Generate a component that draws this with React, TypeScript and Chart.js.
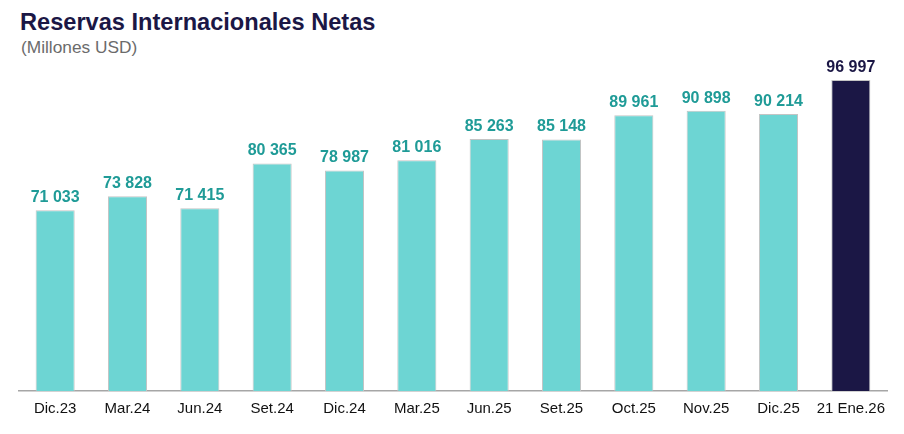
import React, { useEffect, useRef } from 'react';
import Chart from 'chart.js/auto';

const categories = ['Dic.23', 'Mar.24', 'Jun.24', 'Set.24', 'Dic.24', 'Mar.25', 'Jun.25', 'Set.25', 'Oct.25', 'Nov.25', 'Dic.25', '21 Ene.26'];
const reserves = [71033, 73828, 71415, 80365, 78987, 81016, 85263, 85148, 89961, 90898, 90214, 96997];

const TEAL = '#6dd5d3';
const TEAL_TEXT = '#1f9b97';
const NAVY = '#1b1745';

const fmt = (v: number) => v.toLocaleString('en-US').replace(/,/g, ' ');

const barLabels = {
    id: 'barLabels',
    afterDatasetsDraw(chart: Chart) {
        const ctx = chart.ctx;
        const meta = chart.getDatasetMeta(0);
        ctx.save();
        ctx.font = 'bold 16px "Liberation Sans", Arial, sans-serif';
        ctx.textAlign = 'center';
        ctx.textBaseline = 'alphabetic';
        meta.data.forEach((bar: any, i: number) => {
            ctx.fillStyle = i === reserves.length - 1 ? NAVY : TEAL_TEXT;
            ctx.fillText(fmt(reserves[i]), bar.x, bar.y - 8);
        });
        ctx.restore();
    }
};

const App: React.FC = () => {
    const canvasRef = useRef<HTMLCanvasElement>(null);
    const chartRef = useRef<Chart>();

    useEffect(() => {
        document.body.style.margin = '0';
        if (!canvasRef.current) return;
        const ctx = canvasRef.current.getContext('2d');
        if (!ctx) return;
        if (chartRef.current) chartRef.current.destroy();

        chartRef.current = new Chart(ctx, {
            type: 'bar',
            data: {
                labels: categories,
                datasets: [{
                    data: reserves,
                    backgroundColor: reserves.map((_, i) => i === reserves.length - 1 ? NAVY : TEAL),
                    borderColor: '#c4c4c4',
                    borderWidth: { left: 1, right: 1, top: 1, bottom: 0 },
                    borderSkipped: 'bottom',
                    categoryPercentage: 1,
                    barPercentage: 0.54
                }]
            },
            options: {
                animation: false,
                responsive: false,
                layout: { padding: { left: 19, right: 17, top: 65, bottom: 7 } },
                plugins: {
                    legend: { display: false },
                    tooltip: { enabled: false }
                },
                scales: {
                    x: {
                        grid: { display: false, drawTicks: false },
                        border: { display: true, color: '#a6a6a6', width: 1.5 },
                        ticks: {
                            color: '#111111',
                            padding: 9,
                            maxRotation: 0,
                            minRotation: 0,
                            autoSkip: false,
                            font: { family: '"Liberation Sans", Arial, sans-serif', size: 15 }
                        }
                    },
                    y: {
                        display: false,
                        min: 35000,
                        max: 100000
                    }
                }
            },
            plugins: [barLabels]
        });

        return () => {
            if (chartRef.current) chartRef.current.destroy();
        };
    }, []);

    return (
        <div style={{ position: 'relative', width: 904, height: 434, background: '#fff', fontFamily: '"Liberation Sans", Arial, sans-serif' }}>
            <div style={{ position: 'absolute', left: 20, top: 8, fontSize: 23.6, fontWeight: 'bold', color: NAVY, lineHeight: '28px' }}>
                Reservas Internacionales Netas
            </div>
            <div style={{ position: 'absolute', left: 21, top: 37, fontSize: 17.3, color: '#6b6b6b', lineHeight: '20px' }}>
                (Millones USD)
            </div>
            <canvas ref={canvasRef} width={904} height={434} style={{ position: 'absolute', left: 0, top: 0 }}></canvas>
        </div>
    );
};

export default App;
